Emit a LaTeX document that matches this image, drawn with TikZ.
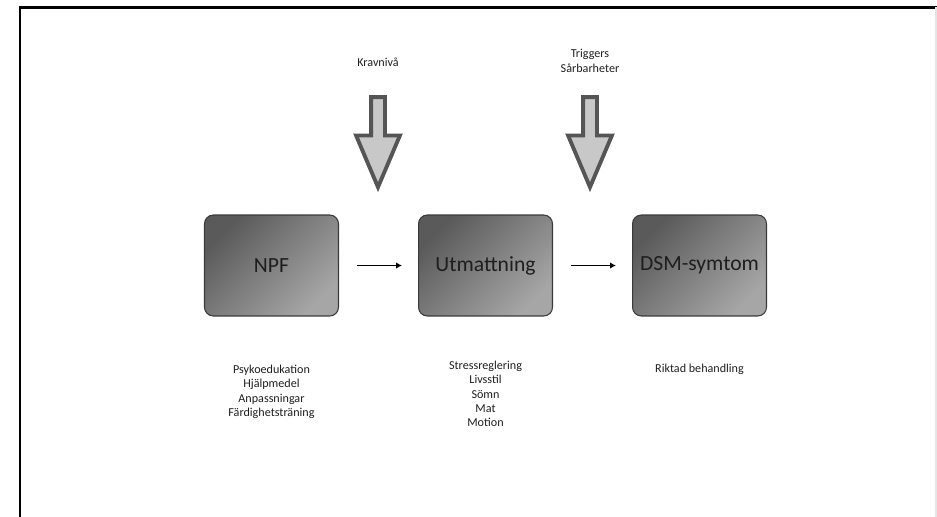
\documentclass[tikz,border=0pt]{standalone}
\usepackage{fontspec}
\setmainfont{Carlito}
\usetikzlibrary{arrows.meta,positioning,shapes.arrows}
\definecolor{boxdark}{HTML}{5A5A5A}
\definecolor{boxlight}{HTML}{A6A6A6}
\definecolor{boxline}{HTML}{3A3A3A}
\definecolor{pilfill}{HTML}{C8C8C8}
\definecolor{pilline}{HTML}{555555}
\definecolor{textdark}{HTML}{1E1E1E}

\begin{document}
\begin{tikzpicture}[x=0.02cm,y=-0.02cm,
			node distance=1.58cm,
			stage/.style={draw=boxline,line width=0.6pt,rounded corners=5pt,minimum width=2.68cm,minimum height=2.02cm,shading=axis,top color=boxdark,bottom color=boxlight,shading angle=45,text=textdark,font=\fontsize{12.3}{14}\selectfont},
			lista/.style={inner sep=0pt,align=center,text=textdark,font=\fontsize{6.9}{8.2}\selectfont},
			pil/.style={single arrow,shape border rotate=270,draw=pilline,line width=2.2pt,fill=pilfill,minimum height=1.8cm,inner sep=0.1cm,single arrow head extend=0.3cm,single arrow tip angle=46},
			arr/.style={-{Latex[length=1.2mm,width=1.3mm]},line width=0.8pt,shorten <=0.36cm,shorten >=0.32cm},
			ram/.style={line width=1.4pt,black}
			]
			\useasboundingbox (0,0) rectangle (937,517);
			\draw[ram] (20,517) -- (20,7.5) -- (937,7.5);
			\draw[gray!20,line width=0.6pt] (936,7.5) -- (936,517);
			\node[stage] (npf) at (271.5,265.5) {NPF};
			\node[stage] (utm) [right=of npf] {Utmattning};
			\node[stage] (dsm) [right=of utm] {DSM-symtom};
			\draw[arr] (npf)--(utm);
			\draw[arr] (utm)--(dsm);
			\node[lista] (kravtext) at (378,62) {Kravnivå};
			\node[lista] (triggtext) at (590,61) {Triggers\\Sårbarheter};
			\node[pil] (kravpil) at (378,134) {};
			\node[pil] (triggpil) at (590,134) {};
			\node[lista,anchor=north] (npflista) [below=0.96cm of npf] {Psykoedukation\\Hjälpmedel\\Anpassningar\\Färdighetsträning};
			\node[lista,anchor=north] (utmlista) [below=0.88cm of utm] {Stressreglering\\Livsstil\\Sömn\\Mat\\Motion};
			\node[lista,anchor=north] (dsmlista) [below=0.94cm of dsm] {Riktad behandling};
		\end{tikzpicture}
\end{document}
